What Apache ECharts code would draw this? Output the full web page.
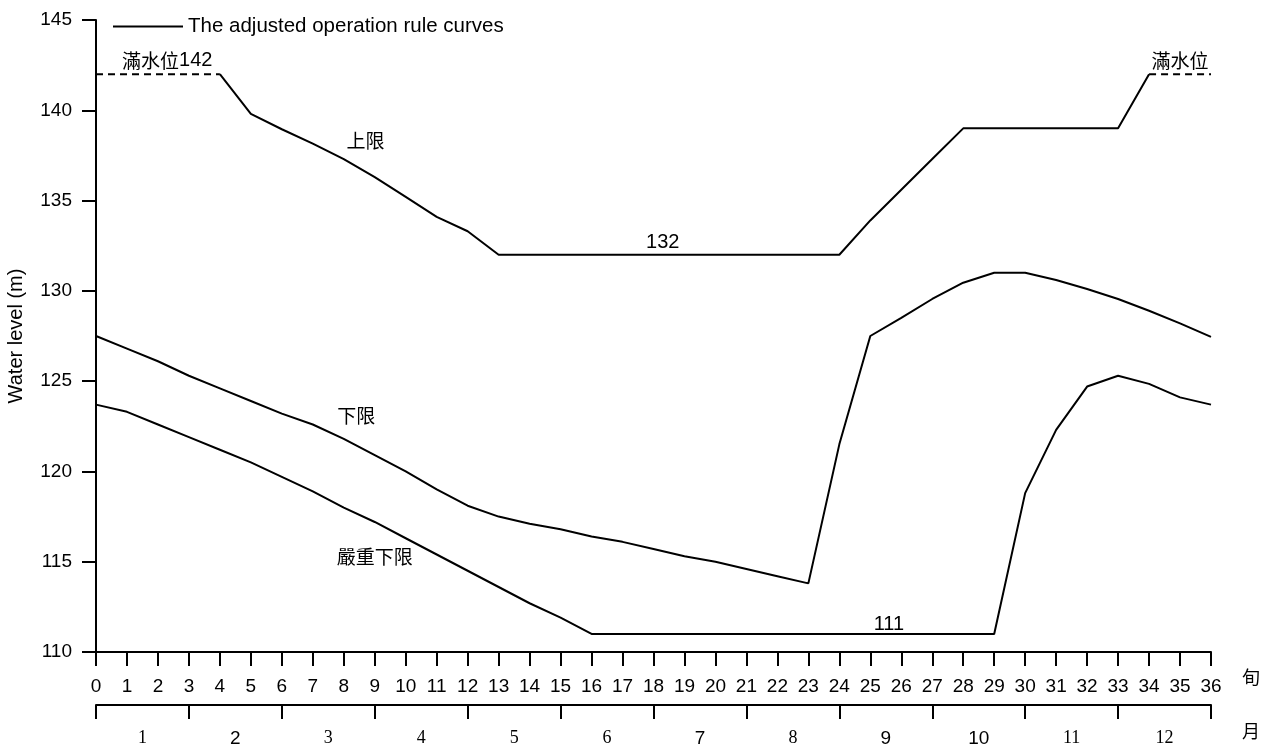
<!DOCTYPE html>
<html>
<head>
<meta charset="utf-8">
<script src="https://cdn.jsdelivr.net/npm/echarts@6/dist/echarts.min.js"></script>
<style>
html,body{margin:0;padding:0;background:#fff;}
#chart{width:1271px;height:749px;}
</style>
</head>
<body>
<div id="chart"></div>
<script>
// ---- data ----
var xenTicks = [0,1,2,3,4,5,6,7,8,9,10,11,12,13,14,15,16,17,18,19,20,21,22,23,24,25,26,27,28,29,30,31,32,33,34,35,36];
var months = ['1','2','3','4','5','6','7','8','9','10','11','12'];
var sansMonths = ['2','7','9','10'];
var yTicks = [110,115,120,125,130,135,140,145];

// upper rule curve (上限), solid part, x = 4..34
var upperX = [4,5,6,7,8,9,10,11,12,13,14,15,16,17,18,19,20,21,22,23,24,25,26,27,28,29,30,31,32,33,34];
var upperY = [142,139.8,138.95,138.15,137.3,136.3,135.2,134.1,133.3,132,132,132,132,132,132,132,132,132,132,132,132,133.9,135.6,137.3,139,139,139,139,139,139,142];
// full water level (滿水位) dashed parts
var fullLeftX = [0,4];
var fullLeftY = [142,142];
var fullRightX = [34,36];
var fullRightY = [142,142];
// lower rule curve (下限), x = 0..36
var lowerY = [127.5,126.8,126.1,125.3,124.6,123.9,123.2,122.6,121.8,120.9,120.0,119.0,118.1,117.5,117.1,116.8,116.4,116.1,115.7,115.3,115.0,114.6,114.2,113.8,121.5,127.5,128.5,129.55,130.45,131,131,130.6,130.1,129.55,128.9,128.2,127.45];
// critical lower limit (嚴重下限), x = 0..36
var severeY = [123.7,123.3,122.6,121.9,121.2,120.5,119.7,118.9,118.0,117.2,116.3,115.4,114.5,113.6,112.7,111.9,111,111,111,111,111,111,111,111,111,111,111,111,111,111,118.8,122.3,124.7,125.3,124.85,124.1,123.7];

// annotations: [x, y, text]
var annotations = [
  [2.3, 142.75, '{c|滿水位}{n|142}'],
  [8.7, 138.3, '{c|上限}'],
  [18.3, 132.7, '{n|132}'],
  [8.4, 123.1, '{c|下限}'],
  [9.0, 115.3, '{c|嚴重下限}'],
  [25.6, 111.5, '{n|111}'],
  [35.0, 142.75, '{c|滿水位}']
];
var legendName = 'The adjusted operation rule curves';

function zip(xs, ys){ var out=[]; for(var i=0;i<xs.length;i++) out.push([xs[i], ys[i]]); return out; }

var SANS = '"Liberation Sans", Arial, Helvetica, sans-serif';
var CJK = '"Noto Sans CJK TC", "Noto Sans CJK SC", sans-serif';
var SERIF = '"Liberation Serif", "Times New Roman", serif';

var lineStyleSolid = {color:'#000', width:2, type:'solid'};
var lineStyleDash = {color:'#000', width:2, type:[7,5]};

var chart = echarts.init(document.getElementById('chart'));
var option = {
  animation:false,
  backgroundColor:'#fff',
  grid:{left:96, right:60, top:20, bottom:97, containLabel:false, outerBoundsMode:'none'},
  legend:{
    data:[legendName],
    icon:'rect',
    left:108, top:11,
    itemWidth:70, itemHeight:2, itemGap:10,
    textStyle:{fontFamily:SANS, fontSize:20.5, color:'#000'}
  },
  xAxis:[{
    type:'value', min:0, max:36, interval:1,
    axisLine:{show:true, onZero:false, lineStyle:{color:'#000', width:2}},
    axisTick:{show:true, inside:false, length:14, lineStyle:{color:'#000', width:2}},
    axisLabel:{show:true, margin:25, fontFamily:SANS, fontSize:19, color:'#000'},
    splitLine:{show:false}
  },{
    type:'category', data:months, position:'bottom', offset:53,
    boundaryGap:true,
    axisLine:{show:true, lineStyle:{color:'#000', width:2}},
    axisTick:{show:true, inside:false, length:14, alignWithLabel:false, lineStyle:{color:'#000', width:2}},
    axisLabel:{show:true, margin:24, interval:0, color:'#000',
      formatter:function(v){ return sansMonths.indexOf(v)>=0 ? '{s|'+v+'}' : '{r|'+v+'}'; },
      rich:{
        s:{fontFamily:SANS, fontSize:19, color:'#000'},
        r:{fontFamily:SERIF, fontSize:18, color:'#000'}
      }
    },
    splitLine:{show:false}
  }],
  yAxis:{
    type:'value', min:110, max:145, interval:5,
    name:'Water level (m)', nameLocation:'middle', nameGap:70, nameRotate:90,
    nameTextStyle:{fontFamily:SANS, fontSize:20, color:'#000'},
    axisLine:{show:true, lineStyle:{color:'#000', width:2}},
    axisTick:{show:true, inside:false, length:14, lineStyle:{color:'#000', width:2}},
    axisLabel:{show:true, margin:24, fontFamily:SANS, fontSize:19, color:'#000'},
    splitLine:{show:false}
  },
  graphic:[
    {type:'text', left:1242, top:668, style:{text:'旬', font:'18px '+CJK, fill:'#000'}},
    {type:'text', left:1242, top:722, style:{text:'月', font:'18px '+CJK, fill:'#000'}}
  ],
  series:[
    {name:legendName, type:'line', xAxisIndex:0, data:zip(upperX, upperY), symbol:'none', lineStyle:lineStyleSolid, itemStyle:{color:'#000'}, z:3},
    {name:'full-left', type:'line', xAxisIndex:0, data:zip(fullLeftX, fullLeftY), symbol:'none', lineStyle:lineStyleDash, itemStyle:{color:'#000'}},
    {name:'full-right', type:'line', xAxisIndex:0, data:zip(fullRightX, fullRightY), symbol:'none', lineStyle:lineStyleDash, itemStyle:{color:'#000'}},
    {name:'lower', type:'line', xAxisIndex:0, data:zip(xenTicks, lowerY), symbol:'none', lineStyle:lineStyleSolid, itemStyle:{color:'#000'}},
    {name:'severe', type:'line', xAxisIndex:0, data:zip(xenTicks, severeY), symbol:'none', lineStyle:lineStyleSolid, itemStyle:{color:'#000'}},
    {name:'labels', type:'scatter', xAxisIndex:0, symbol:'circle', symbolSize:0,
      itemStyle:{color:'#000', opacity:1},
      data:annotations.map(function(a){ return {value:[a[0],a[1]], label:{formatter:a[2]}}; }),
      label:{show:true, position:'inside', color:'#000', opacity:1, textBorderWidth:0,
        rich:{
          c:{fontFamily:CJK, fontSize:19, color:'#000', textBorderWidth:0},
          n:{fontFamily:SANS, fontSize:20, color:'#000', textBorderWidth:0}
        }
      },
      silent:true, z:5
    }
  ]
};
chart.setOption(option);
</script>
</body>
</html>
